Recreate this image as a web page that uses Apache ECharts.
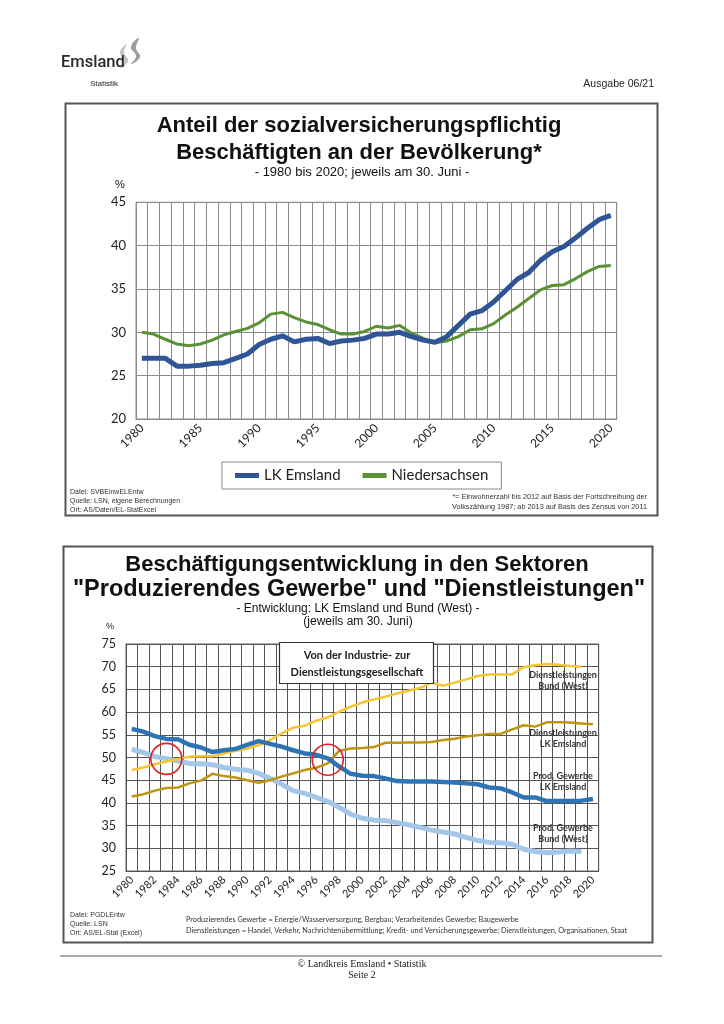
<!DOCTYPE html>
<html><head><meta charset="utf-8">
<script src="https://cdn.jsdelivr.net/npm/echarts/dist/echarts.min.js"></script>
<style>html,body{margin:0;padding:0;background:#fff}#c{width:724px;height:1024px}</style>
</head><body><div id="c"></div>
<script>
// ---- Chart 1 data ----
const years1 = [];
for (let y = 1980; y <= 2020; y++) years1.push(String(y));
const emsland1 = [27.0,27.0,27.0,26.1,26.1,26.2,26.4,26.5,27.0,27.5,28.6,29.2,29.6,28.9,29.2,29.3,28.7,29.0,29.1,29.3,29.8,29.8,30.0,29.5,29.1,28.85,29.5,30.8,32.1,32.5,33.5,34.8,36.1,36.9,38.3,39.3,39.9,40.9,42.0,43.0,43.5];
const nieders1 = [30.0,29.8,29.2,28.65,28.45,28.65,29.1,29.7,30.1,30.45,31.1,32.1,32.3,31.7,31.2,30.9,30.3,29.8,29.8,30.1,30.7,30.5,30.8,29.9,29.3,28.8,29.0,29.5,30.3,30.4,31.0,32.0,32.9,33.9,34.9,35.4,35.5,36.2,37.0,37.6,37.7];
const yTicks1 = {min: 20, max: 45, step: 5};

// ---- Chart 2 data ----
const years2 = years1.slice();
const prodEmsland = [56.3,55.7,54.7,54.1,54.0,52.8,52.2,51.2,51.6,51.9,52.8,53.6,53.0,52.4,51.6,50.9,50.6,49.8,48.0,46.4,46.0,45.9,45.4,44.8,44.7,44.7,44.7,44.6,44.5,44.3,44.1,43.4,43.2,42.3,41.2,41.2,40.4,40.4,40.4,40.5,40.85];
const prodBund = [51.8,51.1,50.2,49.75,49.2,48.7,48.6,48.4,47.8,47.4,47.2,46.5,45.4,44.1,42.7,42.1,41.2,40.3,39.0,37.5,36.6,36.2,36.1,35.65,35.2,34.6,34.0,33.6,33.15,32.4,31.7,31.3,31.2,30.9,29.8,29.3,29.0,29.2,29.4,29.3,null];
const dienstBund = [47.25,47.8,48.5,49.1,49.6,50.2,50.3,50.3,50.9,51.5,51.95,52.7,53.85,55.3,56.6,57.0,58.1,58.85,60.1,61.2,62.1,62.8,63.4,64.1,64.7,65.3,66.5,65.8,66.5,67.2,67.95,68.3,68.3,68.3,69.9,70.3,70.6,70.45,70.15,70.0,null];
const dienstEmsland = [41.4,41.9,42.7,43.3,43.4,44.3,44.9,46.4,45.9,45.6,45.0,44.45,45.0,45.8,46.5,47.25,47.75,48.7,51.5,52.0,52.1,52.3,53.25,53.25,53.3,53.3,53.4,53.85,54.15,54.6,54.9,55.2,55.2,56.2,57.1,56.8,57.75,57.75,57.7,57.5,57.3];
const yTicks2 = {min: 25, max: 75, step: 5};
const crossings = [['1983', 49.7], ['1997', 49.5]];

const chart = echarts.init(document.getElementById('c'), null, {renderer: 'canvas'});
const AR = 'Liberation Sans, Arial, sans-serif';
const CA = 'Lato, Open Sans, sans-serif';

function xAxis(idx, data, labelInterval, gridColor, fs) {
  return {
    type: 'category', gridIndex: idx, data: data, boundaryGap: true,
    axisLine: {show: true, lineStyle: {color: gridColor, width: 1}},
    axisTick: {show: false, interval: 0},
    axisLabel: {interval: labelInterval, rotate: 45, fontFamily: CA, fontSize: fs, color: '#222', margin: 7},
    splitLine: {show: true, interval: 0, lineStyle: {color: gridColor, width: 1}}
  };
}
function yAxis(idx, t, gridColor, fs) {
  return {
    type: 'value', gridIndex: idx, min: t.min, max: t.max, interval: t.step,
    axisLine: {show: true, lineStyle: {color: gridColor}},
    axisTick: {show: false},
    axisLabel: {fontFamily: CA, fontSize: fs, color: '#222', margin: 10},
    splitLine: {show: true, lineStyle: {color: gridColor, width: 1}}
  };
}

function txt(x, y, text, fs, opts) {
  opts = opts || {};
  return {type: 'text', x: x, y: y, z: 100, silent: true,
    style: {text: text, fontSize: fs, fontFamily: opts.ff || AR, fontWeight: opts.fw || 'normal',
      fill: opts.color || '#111', textAlign: opts.align || 'left', textVerticalAlign: 'middle',
      lineHeight: opts.lh || fs * 1.2}};
}

const option = {
  backgroundColor: '#fff',
  animation: false,
  grid: [
    {left: 136, right: 107.3, top: 202.3, bottom: 605, show: true, borderColor: '#888', borderWidth: 1, containLabel: false},
    {left: 126, right: 125.3, top: 644, bottom: 153, show: true, borderColor: '#666', borderWidth: 1, containLabel: false}
  ],
  xAxis: [xAxis(0, years1, 4, '#8a8a8a', 12), xAxis(1, years2, 1, '#555', 11)],
  yAxis: [yAxis(0, yTicks1, '#8a8a8a', 13), yAxis(1, yTicks2, '#555', 12.5)],
  legend: {
    data: ['LK Emsland', 'Niedersachsen'],
    left: 222, top: 462, itemWidth: 24, itemHeight: 5, itemGap: 22,
    icon: 'rect', padding: [6, 13], borderColor: '#888', borderWidth: 1,
    textStyle: {fontFamily: CA, fontSize: 15, color: '#222'}
  },
  series: [
    {name: 'LK Emsland', type: 'line', xAxisIndex: 0, yAxisIndex: 0, data: emsland1, symbol: 'none', smooth: false,
      lineStyle: {color: '#2f5597', width: 5}, itemStyle: {color: '#2f5597'}, z: 3},
    {name: 'Niedersachsen', type: 'line', xAxisIndex: 0, yAxisIndex: 0, data: nieders1, symbol: 'none',
      lineStyle: {color: '#5b9136', width: 3}, itemStyle: {color: '#5b9136'}, z: 2},
    {name: 'Prod. Gewerbe Bund (West)', type: 'line', xAxisIndex: 1, yAxisIndex: 1, data: prodBund, symbol: 'none',
      lineStyle: {color: '#a4c6e8', width: 5}, z: 2},
    {name: 'Dienstleistungen LK Emsland', type: 'line', xAxisIndex: 1, yAxisIndex: 1, data: dienstEmsland, symbol: 'none',
      lineStyle: {color: '#bf9410', width: 2.5}, z: 3},
    {name: 'Dienstleistungen Bund (West)', type: 'line', xAxisIndex: 1, yAxisIndex: 1, data: dienstBund, symbol: 'none',
      lineStyle: {color: '#f7c531', width: 2.5}, z: 3},
    {name: 'Prod. Gewerbe LK Emsland', type: 'line', xAxisIndex: 1, yAxisIndex: 1, data: prodEmsland, symbol: 'none',
      lineStyle: {color: '#2e74b5', width: 4.5}, z: 4,
      markPoint: {symbol: 'circle', symbolSize: 31, silent: true, label: {show: false},
        itemStyle: {color: 'rgba(0,0,0,0)', borderColor: '#e02020', borderWidth: 1.6},
        data: crossings.map(c => ({coord: c}))}}
  ],
  graphic: [
    // logo
    {type: 'polygon', z: 100, shape: {smooth: 0.5, points: [[127,44],[120,52],[124,60],[120,68],[128,61],[124,52]]}, style: {fill: '#c4c4c4'}},
    {type: 'polygon', z: 100, shape: {smooth: 0.5, points: [[139,38],[131,47],[136,56],[131,64],[140,57],[136,48]]}, style: {fill: '#9e9e9e'}},
    txt(61, 63, 'Emsland', 16.5, {color: '#2a2a2a', ff: 'Roboto, sans-serif', fw: 500}),
    txt(104, 84, 'Statistik', 8, {align: 'center', color: '#222'}),
    txt(654, 84, 'Ausgabe 06/21', 10.5, {align: 'right', color: '#222'}),
    // boxes
    {type: 'rect', z: 0, shape: {x: 65.5, y: 103.5, width: 592, height: 412}, style: {fill: 'none', stroke: '#555', lineWidth: 2}},
    {type: 'rect', z: 0, shape: {x: 63.5, y: 546.5, width: 589, height: 396}, style: {fill: 'none', stroke: '#555', lineWidth: 2}},
    // top chart texts
    txt(359, 126, 'Anteil der sozialversicherungspflichtig', 22, {align: 'center', fw: 'bold'}),
    txt(359, 153, 'Beschäftigten an der Bevölkerung*', 22, {align: 'center', fw: 'bold'}),
    txt(362, 172, '- 1980 bis 2020; jeweils am 30. Juni -', 13, {align: 'center'}),
    txt(120, 185, '%', 11, {align: 'center'}),
    txt(70, 492, 'Datei: SVBEinwELEntw', 7, {color: '#333'}),
    txt(70, 501, 'Quelle: LSN, eigene Berechnungen', 7, {color: '#333'}),
    txt(70, 510, 'Ort: AS/Daten/EL-StatExcel', 7, {color: '#333'}),
    txt(647, 497, '*= Einwohnerzahl bis 2012 auf Basis der Fortschreibung der', 7.3, {align: 'right', color: '#333'}),
    txt(647, 507, 'Volkszählung 1987; ab 2013 auf Basis des Zensus von 2011', 7.3, {align: 'right', color: '#333'}),
    // bottom chart texts
    txt(357, 565, 'Beschäftigungsentwicklung in den Sektoren', 22, {align: 'center', fw: 'bold'}),
    txt(359, 590, '"Produzierendes Gewerbe" und "Dienstleistungen"', 23.5, {align: 'center', fw: 'bold'}),
    txt(358, 609, '- Entwicklung: LK Emsland und Bund (West) -', 12, {align: 'center'}),
    txt(358, 622, '(jeweils am 30. Juni)', 12, {align: 'center'}),
    txt(110, 627, '%', 9, {align: 'center'}),
    {type: 'rect', z: 90, shape: {x: 279.5, y: 642.5, width: 154, height: 41}, style: {fill: '#fff', stroke: '#333', lineWidth: 1.2}},
    txt(357, 655, 'Von der Industrie- zur', 11, {align: 'center', fw: 'bold', ff: CA, color: '#222'}),
    txt(357, 672, 'Dienstleistungsgesellschaft', 11, {align: 'center', fw: 'bold', ff: CA, color: '#222'}),
    txt(563, 675, 'Dienstleistungen', 9, {align: 'center', fw: 'bold', ff: CA, color: '#333'}),
    txt(563, 686, 'Bund (West)', 9, {align: 'center', fw: 'bold', ff: CA, color: '#333'}),
    txt(563, 733, 'Dienstleistungen', 9, {align: 'center', fw: 'bold', ff: CA, color: '#333'}),
    txt(563, 744, 'LK Emsland', 9, {align: 'center', fw: 'bold', ff: CA, color: '#333'}),
    txt(563, 776, 'Prod. Gewerbe', 9, {align: 'center', fw: 'bold', ff: CA, color: '#333'}),
    txt(563, 787, 'LK Emsland', 9, {align: 'center', fw: 'bold', ff: CA, color: '#333'}),
    txt(563, 828, 'Prod. Gewerbe', 9, {align: 'center', fw: 'bold', ff: CA, color: '#333'}),
    txt(563, 839, 'Bund (West)', 9, {align: 'center', fw: 'bold', ff: CA, color: '#333'}),
    txt(70, 915, 'Datei: PGDLEntw', 7, {color: '#333'}),
    txt(70, 924, 'Quelle: LSN', 7, {color: '#333'}),
    txt(70, 933, 'Ort: AS/EL-Stat (Excel)', 7, {color: '#333'}),
    txt(186, 920, 'Produzierendes Gewerbe = Energie/Wasserversorgung, Bergbau; Verarbeitendes Gewerbe; Baugewerbe', 7.3, {ff: CA, color: '#333'}),
    txt(186, 931, 'Dienstleistungen = Handel, Verkehr, Nachrichtenübermittlung; Kredit- und Versicherungsgewerbe; Dienstleistungen, Organisationen, Staat', 7.3, {ff: CA, color: '#333'}),
    // page footer
    {type: 'line', z: 0, shape: {x1: 60, y1: 956, x2: 662, y2: 956}, style: {stroke: '#555', lineWidth: 1}},
    txt(362, 964, '© Landkreis Emsland • Statistik', 10, {align: 'center', ff: 'Liberation Serif, serif', color: '#222'}),
    txt(362, 975, 'Seite 2', 10, {align: 'center', ff: 'Liberation Serif, serif', color: '#222'})
  ]
};
chart.setOption(option);
</script></body></html>
